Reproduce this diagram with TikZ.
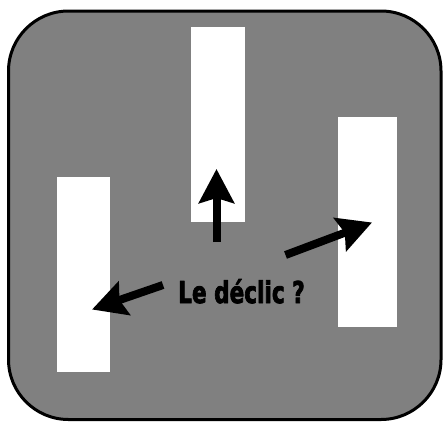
\documentclass[tikz,border=0pt]{standalone}
\usepackage{fontspec}
\newfontfamily\declicfont[FakeBold=3]{DejaVu Sans Bold}
\usetikzlibrary{arrows.meta}
\definecolor{fond}{RGB}{128,128,128}

\begin{document}
\begin{tikzpicture}[x=1pt, y=-1pt, line join=round]
  % pointe de flèche : large 35, longue 34, dos légèrement creusé
  \def\arr{-{Stealth[width=35pt,length=34pt,inset=5pt]}}
  \tikzset{barre/.style={fill=white, draw=none, inner sep=0pt, minimum width=53pt}}

  % ════ fond gris à coins arrondis ════
  \draw[fill=fond, line width=3pt, rounded corners=60pt] (8.5,11) rectangle (441,419.5);

  % ════ barres blanches ════
  \node[barre, minimum height=195pt] (gauche) at (83.5,274.5) {};
  \node[barre, minimum width=54pt, minimum height=195pt] (milieu) at (218,124.5) {};
  \node[barre, minimum width=59pt, minimum height=210pt] (droite) at (367.5,222) {};

  % ════ texte ════
  \node[anchor=base, inner sep=0pt, font=\declicfont\fontsize{30}{36}\selectfont] (declic) at (241.5,303) {\scalebox{0.72}[1]{Le déclic ?}};

  % ════ flèches ════
  \coordinate (pied-g) at (163,285);
  \coordinate (pointe-g) at (92,309.5);
  \coordinate (pied-m) at (216.5,242);
  \coordinate (pointe-m) at (216.5,169);
  \coordinate (pied-d) at (285.5,255);
  \coordinate (pointe-d) at (372,222.5);
  \draw[\arr, line width=8pt] (pied-g) -- (pointe-g);
  \draw[\arr, line width=8pt] (pied-m) -- (pointe-m);
  \draw[\arr, line width=8pt] (pied-d) -- (pointe-d);

  % cadre fixe
  \path[use as bounding box] (0,0) rectangle (444,423);
\end{tikzpicture}
\end{document}
